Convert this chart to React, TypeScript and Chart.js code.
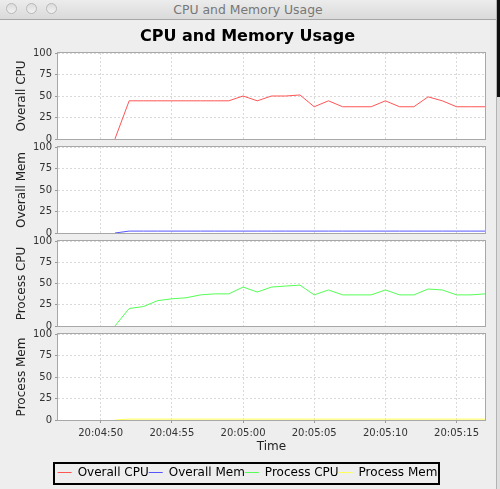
import React, { useEffect, useRef } from "react";
import { Chart, registerables } from "chart.js";

Chart.register(...registerables);

const WINDOW_TITLE = "CPU and Memory Usage";
const CHART_TITLE = "CPU and Memory Usage";
const X_AXIS_TITLE = "Time";

// sample times, in seconds after 20:04:50
const sampleSeconds = [1, 2, 3, 4, 5, 6, 7, 8, 9, 10, 11, 12, 13, 14, 15, 16, 17, 18, 19, 20, 21, 22, 23, 24, 25, 26, 27];
const xTickSeconds = [0, 5, 10, 15, 20, 25];
const xTickLabels = ["20:04:50", "20:04:55", "20:05:00", "20:05:05", "20:05:10", "20:05:15"];
const xMin = -3;
const xMax = 27;
const yTickValues = [0, 25, 50, 75, 100];

const seriesNames = ["Overall CPU", "Overall Mem", "Process CPU", "Process Mem"];
const seriesColors = ["#ff5555", "#5555ff", "#55ff55", "#ffff55"];

const overallCpu = [0, 44.4, 44.4, 44.4, 44.4, 44.4, 44.4, 44.4, 44.4, 50, 44.4, 50, 50, 51.2, 37.5, 44.4, 37.5, 37.5, 37.5, 44.4, 37.5, 37.5, 49, 44.4, 37.5, 37.5, 37.5];
const overallMem = [0, 2.2, 2.2, 2.2, 2.2, 2.2, 2.2, 2.2, 2.2, 2.2, 2.2, 2.2, 2.2, 2.2, 2.2, 2.2, 2.2, 2.2, 2.2, 2.2, 2.2, 2.2, 2.2, 2.2, 2.2, 2.2, 2.2];
const processCpu = [0, 20.6, 22.9, 29.8, 32, 33.2, 36.6, 37.8, 37.8, 45.8, 40, 45.8, 47, 48.1, 36.6, 42.4, 36.6, 36.6, 36.6, 42.4, 36.6, 36.6, 43.5, 42.4, 36.6, 36.6, 37.8];
const processMem = [0, 1, 1, 1, 1, 1, 1, 1, 1, 1, 1, 1, 1, 1, 1, 1, 1, 1, 1, 1, 1, 1, 1, 1, 1, 1, 1];

const seriesValues = [overallCpu, overallMem, processCpu, processMem];

const FONT = "'DejaVu Sans', sans-serif";

// canvas placement of each subplot: [top, height, padTop, padBottom]
const canvasBoxes = [
  [20, 128, 0, 8],
  [138, 104, 8, 8],
  [232, 103, 8, 8],
  [325, 164, 8, 0.5],
];

const framePlugin = {
  id: "frame",
  beforeDraw(chart: any) {
    const { ctx, chartArea: a } = chart;
    ctx.save();
    ctx.fillStyle = "#ffffff";
    ctx.fillRect(a.left, a.top, a.right - a.left, a.bottom - a.top);
    ctx.restore();
  },
  beforeDatasetsDraw(chart: any) {
    const { ctx, chartArea: a } = chart;
    ctx.save();
    ctx.strokeStyle = "#a8a8a8";
    ctx.lineWidth = 1;
    ctx.strokeRect(Math.round(a.left) - 0.5, Math.round(a.top) - 0.5, Math.round(a.right - a.left) + 1, Math.round(a.bottom - a.top) + 1);
    ctx.restore();
  },
  afterDraw(chart: any) {
    const lg = chart.legend;
    if (!lg || !lg.options.display || !lg.legendHitBoxes || !lg.legendHitBoxes.length) return;
    const hb = lg.legendHitBoxes;
    const l = Math.min(...hb.map((h: any) => h.left)) - 4;
    const r = Math.max(...hb.map((h: any) => h.left + h.width)) + 1;
    const t = hb[0].top - 4;
    const b = hb[0].top + hb[0].height + 5;
    const { ctx } = chart;
    ctx.save();
    ctx.strokeStyle = "#000000";
    ctx.lineWidth = 2;
    ctx.strokeRect(Math.round(l), Math.round(t), Math.round(r - l), Math.round(b - t));
    ctx.restore();
  },
};

function makeConfig(i: number): any {
  const isFirst = i === 0;
  const isBottom = i === 3;
  const [, , padTop, padBottom] = canvasBoxes[i];
  return {
    type: "line",
    data: {
      datasets: [
        {
          label: seriesNames[i],
          data: sampleSeconds.map((s, k) => ({ x: s, y: seriesValues[i][k] })),
          borderColor: seriesColors[i],
          backgroundColor: seriesColors[i],
          borderWidth: 1,
          pointRadius: 0,
          pointHoverRadius: 0,
          tension: 0,
          fill: false,
        },
      ],
    },
    options: {
      responsive: false,
      maintainAspectRatio: false,
      animation: false,
      devicePixelRatio: 1,
      events: [],
      layout: { padding: { left: 10, right: 15, top: padTop, bottom: padBottom } },
      scales: {
        x: {
          type: "linear",
          min: xMin,
          max: xMax,
          afterBuildTicks: (s: any) => {
            s.ticks = xTickSeconds.map((v) => ({ value: v }));
          },
          afterFit: (s: any) => {
            s.height = isBottom ? 46.5 : 0;
          },
          ticks: {
            display: isBottom,
            autoSkip: false,
            maxRotation: 0,
            minRotation: 0,
            padding: 4,
            color: "#333333",
            font: { family: FONT, size: 10 },
            callback: (v: any) => {
              const k = xTickSeconds.indexOf(Number(v));
              return k >= 0 ? xTickLabels[k] : "";
            },
          },
          grid: {
            color: "#dadada",
            lineWidth: 1,
            drawTicks: isBottom,
            tickLength: 3,
            tickColor: "#999999",
          },
          border: { display: false, dash: [2, 2] },
          title: {
            display: isBottom,
            text: X_AXIS_TITLE,
            color: "#222222",
            font: { family: FONT, size: 12 },
            padding: { top: 0, bottom: 12.6 },
          },
        },
        y: {
          min: 0,
          max: 100,
          afterBuildTicks: (s: any) => {
            s.ticks = yTickValues.map((v) => ({ value: v }));
          },
          afterFit: (s: any) => {
            s.width = 48;
          },
          ticks: {
            padding: 3,
            color: "#333333",
            font: { family: FONT, size: 10 },
          },
          grid: {
            color: "#dadada",
            lineWidth: 1,
            drawTicks: true,
            tickLength: 3,
            tickColor: "#999999",
          },
          border: { display: false, dash: [2, 2] },
          title: {
            display: true,
            text: seriesNames[i],
            color: "#222222",
            font: { family: FONT, size: 12 },
            padding: { top: 4.5, bottom: 0 },
          },
        },
      },
      plugins: {
        tooltip: { enabled: false },
        title: {
          display: isFirst,
          text: CHART_TITLE,
          color: "#000000",
          font: { family: FONT, size: 16, weight: "bold" },
          padding: { top: 6.9, bottom: 6.9 },
        },
        legend: {
          display: isBottom,
          position: "bottom",
          align: "center",
          onClick: null,
          labels: {
            usePointStyle: true,
            pointStyleWidth: 14,
            padding: 0,
            color: "#000000",
            font: { family: FONT, size: 12 },
            generateLabels: () =>
              seriesNames.map((n, k) => ({
                text: n,
                fillStyle: seriesColors[k],
                strokeStyle: seriesColors[k],
                lineWidth: 1,
                pointStyle: "line",
                hidden: false,
                datasetIndex: k,
                fontColor: "#000000",
              })),
          },
        },
      },
    },
    plugins: [framePlugin],
  };
}

export default function App() {
  const r0 = useRef<HTMLCanvasElement>(null);
  const r1 = useRef<HTMLCanvasElement>(null);
  const r2 = useRef<HTMLCanvasElement>(null);
  const r3 = useRef<HTMLCanvasElement>(null);
  const refs = [r0, r1, r2, r3];

  useEffect(() => {
    const charts: Chart[] = [];
    refs.forEach((r, i) => {
      if (r.current) charts.push(new Chart(r.current, makeConfig(i)));
    });
    return () => charts.forEach((c) => c.destroy());
  }, []);

  return (
    <div style={{ position: "absolute", left: 0, top: 0, width: 500, height: 489, background: "#eeeeee", overflow: "hidden" }}>
      {/* window title bar */}
      <div
        style={{
          position: "absolute",
          left: 0,
          top: 0,
          width: 496,
          height: 19,
          background: "linear-gradient(#ececec, #dadada)",
          borderBottom: "1px solid #a6a6a6",
        }}
      >
        {[12, 32, 52].map((cx) => (
          <div
            key={cx}
            style={{
              position: "absolute",
              left: cx - 6,
              top: 3,
              width: 11,
              height: 11,
              borderRadius: "50%",
              background: "linear-gradient(#dcdcdc, #f2f2f2)",
              border: "1px solid #b8b8b8",
              boxSizing: "border-box",
            }}
          />
        ))}
        <div
          style={{
            position: "absolute",
            left: 0,
            width: 496,
            top: 2,
            textAlign: "center",
            font: `12.4px ${FONT}`,
            color: "#777777",
            lineHeight: "15px",
          }}
        >
          {WINDOW_TITLE}
        </div>
      </div>
      <div style={{ position: "absolute", left: 496, top: 0, width: 1, height: 489, background: "#b4b4b4" }} />
      <div style={{ position: "absolute", left: 497, top: 0, width: 3, height: 97, background: "#111111" }} />
      <div style={{ position: "absolute", left: 497, top: 97, width: 3, height: 392, background: "#dedede" }} />
      {canvasBoxes.map(([top, h], i) => (
        <canvas
          key={i}
          ref={refs[i]}
          width={500}
          height={h}
          style={{ position: "absolute", left: 0, top, width: 500, height: h }}
        />
      ))}
    </div>
  );
}
